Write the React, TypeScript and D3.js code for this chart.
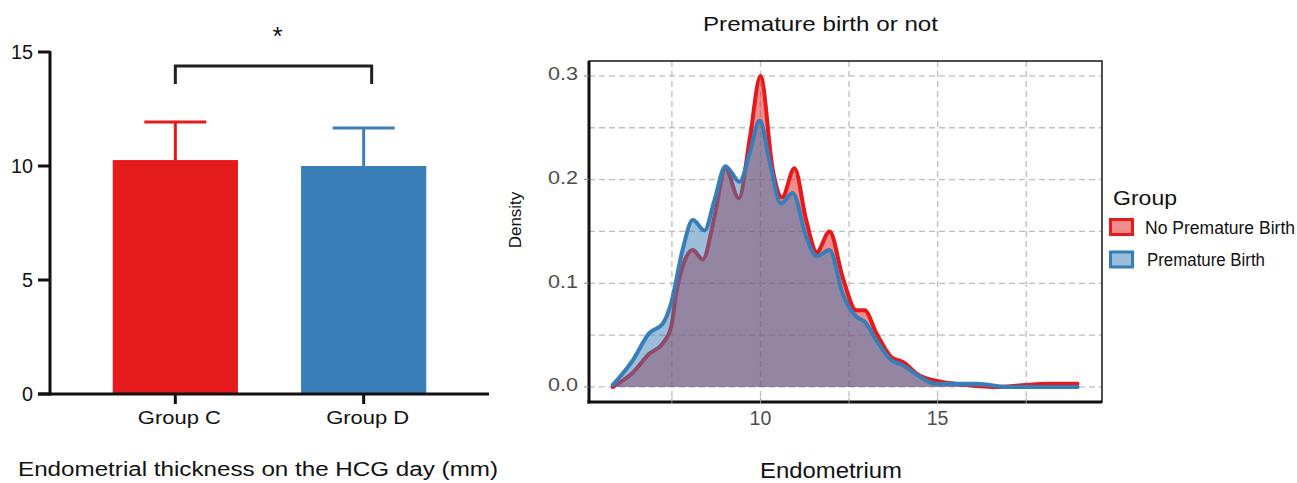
import React from 'react';
import * as d3 from 'd3';

// bar chart (left)
const groups = ['Group C', 'Group D'];
const means = [10.26, 10.0];
const upperErr = [11.93, 11.67];
const barColors = ['#e41a1c', '#3a7fb8'];
const barTicks = [0, 5, 10, 15];

// density chart (right)
const noPremX = [5.83, 6.4, 6.86, 7.24, 7.48, 7.62, 7.8, 8.09, 8.37, 8.7, 9.01, 9.39, 9.7, 10.0, 10.35, 10.61, 10.96, 11.29, 11.59, 11.95, 12.32, 12.7, 12.94, 13.27, 13.69, 14.02, 14.49, 14.96, 15.8, 16.75, 17.5, 18.16, 18.95];
const noPremY = [0.0, 0.014, 0.032, 0.042, 0.058, 0.09, 0.116, 0.132, 0.123, 0.164, 0.211, 0.182, 0.24, 0.30, 0.209, 0.183, 0.211, 0.161, 0.13, 0.15, 0.106, 0.074, 0.074, 0.052, 0.029, 0.024, 0.011, 0.006, 0.002, 0.0, 0.002, 0.003, 0.003];
const premX = [5.83, 6.4, 6.86, 7.24, 7.48, 7.8, 8.09, 8.42, 8.7, 9.01, 9.41, 9.69, 9.98, 10.25, 10.58, 10.91, 11.29, 11.59, 11.95, 12.32, 12.7, 12.94, 13.27, 13.69, 14.02, 14.49, 14.96, 15.5, 16.1, 17.03, 17.8, 18.95];
const premY = [0.002, 0.026, 0.052, 0.061, 0.081, 0.132, 0.161, 0.151, 0.18, 0.213, 0.198, 0.225, 0.257, 0.219, 0.177, 0.187, 0.145, 0.126, 0.132, 0.09, 0.068, 0.063, 0.045, 0.026, 0.021, 0.01, 0.003, 0.003, 0.003, 0.0, 0.0, 0.0];
const xMajor = [10, 15];
const xMinor = [7.5, 12.5, 17.5];
const yMajor = [0, 0.1, 0.2, 0.3];
const yMinor = [0.05, 0.15, 0.25];
const seriesNames = ['No Premature Birth', 'Premature Birth'];
const seriesColors = ['#e41a1c', '#377eb8'];
const seriesLight = ['#f18c8d', '#9bbedb'];

const FONT = '"Liberation Sans", Arial, sans-serif';

export default function App() {
  // left chart scales
  const yB = d3.scaleLinear().domain([0, 15]).range([394, 52]);
  const xB = d3.scaleBand().domain(groups).range([50, 489]).paddingInner(0.335).paddingOuter(0.333);
  const bw = xB.bandwidth();
  const cx = (g) => (xB(g) as number) + bw / 2;

  // right chart scales
  const px0 = 589, px1 = 1102, py0 = 61, py1 = 402;
  const xD = d3.scaleLinear().domain([5.16, 19.64]).range([px0, px1]);
  const yD = d3.scaleLinear().domain([-0.0145, 0.3144]).range([py1, py0]);

  const series = [
    noPremX.map((x, i) => [x, noPremY[i]]),
    premX.map((x, i) => [x, premY[i]]),
  ];
  const area = d3.area<number[]>().x(d => xD(d[0])).y0(yD(0)).y1(d => yD(d[1])).curve(d3.curveMonotoneX);
  const line = d3.line<number[]>().x(d => xD(d[0])).y(d => yD(d[1])).curve(d3.curveMonotoneX);

  const gridStyle = { stroke: '#bdbdbd', strokeWidth: 1.3, strokeDasharray: '6,4' };

  const bx1 = cx('Group C');
  const bx2 = cx('Group D') + 8;

  return (
    <svg width={1297} height={483} style={{ position: 'absolute', left: 0, top: 0, fontFamily: FONT }}>
      <rect width={1297} height={483} fill="#fff" />

      {/* left: bar chart */}
      {groups.map((g, i) => (
        <g key={g}>
          <rect x={xB(g)} y={yB(means[i])} width={bw} height={yB(0) - yB(means[i])} fill={barColors[i]} />
          <line x1={cx(g)} x2={cx(g)} y1={yB(means[i])} y2={yB(upperErr[i])} stroke={barColors[i]} strokeWidth={3} />
          <line x1={cx(g) - 31} x2={cx(g) + 31} y1={yB(upperErr[i])} y2={yB(upperErr[i])} stroke={barColors[i]} strokeWidth={3} />
          <line x1={cx(g)} x2={cx(g)} y1={yB(0)} y2={yB(0) + 10} stroke="#111" strokeWidth={3} />
          <text x={cx(g) + 4} y={424} fontSize={19} textAnchor="middle" fill="#111" textLength={83} lengthAdjust="spacingAndGlyphs">{g}</text>
        </g>
      ))}
      <line x1={50} x2={50} y1={yB(15) - 1} y2={yB(0) + 1.5} stroke="#111" strokeWidth={3} />
      <line x1={38} x2={489} y1={yB(0)} y2={yB(0)} stroke="#111" strokeWidth={3} />
      {barTicks.map(t => (
        <g key={t}>
          <line x1={38} x2={50} y1={yB(t)} y2={yB(t)} stroke="#111" strokeWidth={3} />
          <text x={33} y={yB(t)} dy="0.36em" fontSize={19.5} textAnchor="end" fill="#111"
            textLength={t >= 10 ? 22 : 11} lengthAdjust="spacingAndGlyphs">{t}</text>
        </g>
      ))}
      {/* significance bracket */}
      <path d={`M${bx1},${yB(13.6)}V${yB(14.39)}H${bx2}V${yB(13.6)}`} fill="none" stroke="#231f20" strokeWidth={3} />
      <text x={(bx1 + bx2) / 2 + 4} y={45} fontSize={26} textAnchor="middle" fill="#111">*</text>
      <text x={258} y={476} fontSize={19.5} textAnchor="middle" fill="#111" textLength={480} lengthAdjust="spacingAndGlyphs">
        Endometrial thickness on the HCG day (mm)
      </text>

      {/* right: density chart */}
      <text x={820.5} y={31} fontSize={20.5} textAnchor="middle" fill="#111" textLength={235} lengthAdjust="spacingAndGlyphs">
        Premature birth or not
      </text>
      {[...xMinor, ...xMajor].map(v => (
        <line key={'gx' + v} x1={xD(v)} x2={xD(v)} y1={py0} y2={py1} {...gridStyle} />
      ))}
      {[...yMinor, ...yMajor].map(v => (
        <line key={'gy' + v} x1={px0} x2={px1} y1={yD(v)} y2={yD(v)} {...gridStyle} />
      ))}
      {series.map((s, i) => (
        <g key={seriesNames[i]}>
          <path d={area(s) as string} fill={seriesColors[i]} fillOpacity={0.5} />
          <path d={line(s) as string} fill="none" stroke={seriesColors[i]} strokeWidth={4} strokeLinejoin="round" strokeLinecap="round" />
        </g>
      ))}
      <rect x={px0} y={py0} width={px1 - px0} height={py1 - py0} fill="none" stroke="#222" strokeWidth={1.6} />
      <line x1={px0} x2={px0} y1={py0} y2={py1 + 1.5} stroke="#111" strokeWidth={3} />
      <line x1={px0 - 1.5} x2={px1} y1={py1} y2={py1} stroke="#111" strokeWidth={3} />
      {yMajor.map(v => (
        <g key={'ty' + v}>
          <line x1={px0 - 5} x2={px0} y1={yD(v)} y2={yD(v)} stroke="#888" strokeWidth={1} />
          <text x={578} y={yD(v) - 2} dy="0.36em" fontSize={17.5} textAnchor="end" fill="#4d4d4d"
            textLength={30} lengthAdjust="spacingAndGlyphs">{v.toFixed(1)}</text>
        </g>
      ))}
      {[...xMinor, ...xMajor].map(v => (
        <line key={'tx' + v} x1={xD(v)} x2={xD(v)} y1={py1 - 4} y2={py1 + 2} stroke="#999" strokeWidth={1} />
      ))}
      {xMajor.map(v => (
        <text key={'lx' + v} x={xD(v)} y={425} fontSize={19.5} textAnchor="middle" fill="#4d4d4d">{v}</text>
      ))}
      <text x={831} y={478} fontSize={22} textAnchor="middle" fill="#111" textLength={142} lengthAdjust="spacingAndGlyphs">Endometrium</text>
      <text transform="translate(521,220) rotate(-90)" fontSize={17} textAnchor="middle" fill="#111">Density</text>

      {/* legend */}
      <text x={1113} y={205} fontSize={21} fill="#111" textLength={64} lengthAdjust="spacingAndGlyphs">Group</text>
      {seriesNames.map((n, i) => (
        <g key={n}>
          <rect x={1110.5} y={219.5 + i * 32.5} width={22} height={15} fill={seriesLight[i]} stroke={seriesColors[i]} strokeWidth={3} />
          <text x={1145 + i * 2} y={234 + i * 32} fontSize={17.5} fill="#111"
            textLength={i === 0 ? 150 : 118} lengthAdjust="spacingAndGlyphs">{n}</text>
        </g>
      ))}
    </svg>
  );
}
